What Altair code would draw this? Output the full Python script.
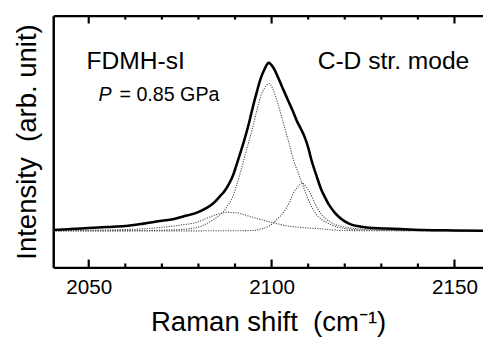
import altair as alt
import pandas as pd

# ---- data (intensity in arbitrary units, baseline = 0) ----
total_x = [2040.3, 2045, 2050, 2055, 2060, 2065, 2070, 2073, 2076, 2079.6, 2082, 2084, 2085.8,
           2087.2, 2088.5, 2089.5, 2090.3, 2091.5, 2092.5, 2093.7, 2094.8, 2096, 2097, 2098,
           2099.2, 2100.5, 2101.9, 2103.3, 2104.6, 2105.8, 2106.9, 2108, 2109.1, 2110, 2110.9,
           2112.2, 2113.6, 2114.5, 2115.8, 2117.2, 2118.5, 2119.9, 2121.5, 2123.4, 2126, 2128,
           2131, 2135.2, 2141.4, 2150, 2157.8]
total_y = [1.0, 2, 3, 4, 5, 7.5, 10.5, 12, 15, 18.7, 23, 28, 35,
           41, 49, 57, 66, 80, 92, 108, 125, 142, 155, 164,
           171, 166, 155, 143, 132, 122, 112, 104, 95, 85, 72,
           57, 42, 35, 26, 19, 14, 10, 7, 5, 3.5, 3,
           2.5, 2, 1, 0.6, 0.3]

c1_x = [2040.3, 2060, 2070, 2075, 2080, 2083, 2085, 2086.7, 2088, 2089.4, 2090.3, 2091.5,
        2092.6, 2093.7, 2094.8, 2096, 2097, 2098.2, 2099.3, 2100.4, 2101.5, 2102.7, 2103.8,
        2105, 2106, 2107.2, 2108.3, 2109.6, 2110.9, 2112.2, 2113.6, 2115.4, 2117.2, 2120,
        2125, 2135, 2157.8]
c1_y = [0.2, 0.4, 0.8, 1.5, 4, 9, 14, 19, 26, 35, 45, 60,
        75, 90, 105, 123, 137, 146, 150, 144, 132, 117, 102,
        86, 72, 60, 49, 36, 25, 17, 12, 8, 5, 2.5,
        1, 0.4, 0.2]

c2_x = [2040.3, 2085, 2094.8, 2097, 2099.3, 2101.5, 2103.8, 2105, 2106, 2107.2, 2108.3,
        2109.4, 2110.5, 2111.6, 2112.7, 2115, 2117.2, 2120, 2125, 2135, 2145, 2157.8]
c2_y = [0.1, 0.2, 0.5, 2, 5, 12, 22, 30, 39, 45, 49,
        45, 39, 30, 22, 12, 7, 4, 2, 0.8, 0.4, 0.2]

c3_x = [2040.3, 2050, 2060, 2066, 2070.6, 2075, 2079.6, 2083, 2086, 2087.6, 2090.3, 2094.8,
        2099.3, 2103.8, 2108.3, 2112.6, 2117, 2120, 2130, 2157.8]
c3_y = [0.3, 0.8, 1.5, 2.5, 4, 6, 9, 14, 18, 19, 18.5, 14,
        9.5, 5.5, 3.5, 2.5, 1, 0.5, 0.3, 0.2]

major_ticks = [2050, 2100, 2150]
minor_ticks = [2060, 2070, 2080, 2090, 2110, 2120, 2130, 2140]

# annotation texts (data-space anchor)
ann_text = ["FDMH-sI", "C-D str. mode"]
ann_x = [2049.4, 2112.6]
ann_y = [165, 165]

FONT = "Liberation Sans"
XDOM = [2040.3, 2157.8]
YDOM = [-37, 219]
W, H = 437, 256

comp_rows = []
for name, xs_, ys_ in [("c1", c1_x, c1_y), ("c2", c2_x, c2_y), ("c3", c3_x, c3_y)]:
    comp_rows += [{"series": name, "x": a, "y": b} for a, b in zip(xs_, ys_)]
comp_df = pd.DataFrame(comp_rows)
total_df = pd.DataFrame({"x": total_x, "y": total_y})
ann_df = pd.DataFrame({"text": ann_text, "x": ann_x, "y": ann_y})
p_df = pd.DataFrame({"x": [2052.7], "y": [132]})
p2_df = pd.DataFrame({"x": [2058.4], "y": [132]})
major_df = pd.DataFrame({"x": major_ticks})
minor_df = pd.DataFrame({"x": minor_ticks})

xs = alt.Scale(domain=XDOM, nice=False, zero=False)
ys = alt.Scale(domain=YDOM, nice=False, zero=False)

comps = alt.Chart(comp_df).mark_line(
    color="#4d4d4d", strokeWidth=1.1, strokeDash=[1.2, 1.3], interpolate="monotone", clip=True
).encode(
    x=alt.X("x:Q", scale=xs, axis=alt.Axis(
        orient="bottom", values=major_ticks, format="d", ticks=False, grid=False,
        domainColor="black", domainWidth=2.5, labelFont=FONT, labelFontSize=21,
        labelColor="black", labelPadding=10, title="Raman shift\u00a0 (cm⁻¹)",
        titleFont=FONT, titleFontSize=28, titleFontWeight="normal", titleColor="black",
        titlePadding=11)),
    y=alt.Y("y:Q", scale=ys, axis=alt.Axis(
        orient="left", ticks=False, labels=False, grid=False, domainColor="black",
        domainWidth=2.5, title="Intensity\u00a0 (arb. unit)", titleFont=FONT, titleFontSize=28,
        titleFontWeight="normal", titleColor="black", titlePadding=12)),
    detail="series:N",
)

total = alt.Chart(total_df).mark_line(
    color="black", strokeWidth=2.6, interpolate="monotone", clip=True
).encode(
    x=alt.X("x:Q", scale=xs, axis=alt.Axis(
        orient="top", ticks=False, labels=False, grid=False, domainColor="black",
        domainWidth=2.5, title=None)),
    y=alt.Y("y:Q", scale=ys, axis=None),
)


def tick_rules(df, y_a, y_b):
    return alt.Chart(df).mark_rule(color="black", strokeWidth=2.2).encode(
        x=alt.X("x:Q", scale=xs, axis=None),
        y=alt.value(y_a),
        y2=alt.value(y_b),
    )


texts = alt.Chart(ann_df).mark_text(
    font=FONT, fontSize=25, align="left", baseline="alphabetic", color="black"
).encode(
    x=alt.X("x:Q", scale=xs, axis=None),
    y=alt.Y("y:Q", scale=ys, axis=None),
    text="text:N",
)

p_text = alt.Chart(p_df).mark_text(
    font=FONT, fontSize=20, fontStyle="italic", align="left", baseline="alphabetic",
    color="black", text="P"
).encode(
    x=alt.X("x:Q", scale=xs, axis=None),
    y=alt.Y("y:Q", scale=ys, axis=None),
)

p2_text = alt.Chart(p2_df).mark_text(
    font=FONT, fontSize=20, align="left", baseline="alphabetic", color="black",
    text="= 0.85 GPa"
).encode(
    x=alt.X("x:Q", scale=xs, axis=None),
    y=alt.Y("y:Q", scale=ys, axis=None),
)

chart = alt.layer(
    comps, total,
    tick_rules(major_df, H - 8, H), tick_rules(minor_df, H - 4, H),
    tick_rules(major_df, 0, 8), tick_rules(minor_df, 0, 4),
    texts, p_text, p2_text,
).resolve_axis(x="independent", y="independent").properties(
    width=W, height=H,
    autosize=alt.AutoSizeParams(type="none"),
    padding={"left": 46, "top": 5, "right": 0, "bottom": 68},
).configure_view(stroke=None).configure(background="white")

chart.save("out.html", embed_options={"renderer": "svg", "actions": False})
